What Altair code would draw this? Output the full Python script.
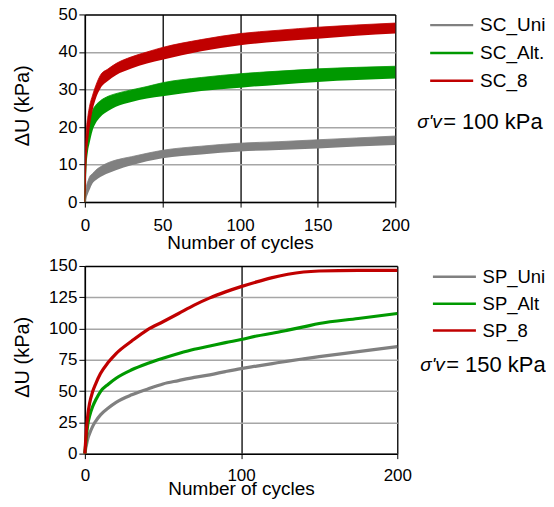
import altair as alt
import pandas as pd

# ---------------- top panel: sigma'v = 100 kPa (cyclic bands: lower / upper edge) ----------------
sc_names = ["SC_Uni", "SC_Alt.", "SC_8"]
sc_cycles = [0, 0.5, 1, 2, 3, 5, 7, 10, 15, 20, 30, 40, 50, 75, 100, 125, 150, 175, 200]
sc_uni_lo = [0, 0, 1.0, 2.2, 3.2, 5.0, 5.8, 6.7, 7.7, 8.5, 9.8, 10.9, 11.7, 12.7, 13.5, 13.9, 14.3, 14.8, 15.2]
sc_uni_hi = [0, 2.5, 4.1, 5.6, 6.7, 7.6, 8.5, 9.4, 10.5, 11.2, 12.1, 13.0, 13.8, 14.9, 15.7, 16.1, 16.6, 17.1, 17.6]
sc_alt_lo = [0, 4, 9, 13.5, 15.6, 19.1, 21.0, 22.7, 24.3, 25.4, 26.7, 27.6, 28.2, 29.6, 30.5, 31.3, 32.0, 32.5, 32.9]
sc_alt_hi = [0, 11, 16, 20, 21.8, 24.5, 25.8, 27.0, 28.2, 28.9, 29.9, 30.8, 31.8, 33.2, 34.2, 34.9, 35.5, 35.9, 36.2]
sc_8_lo = [0, 4, 10, 16, 19.5, 24.5, 27.5, 30.2, 32.3, 33.8, 35.6, 36.9, 37.9, 40.2, 41.8, 42.8, 43.5, 44.3, 44.9]
sc_8_hi = [0, 14, 19, 23, 25.5, 28.5, 31, 33.8, 35.5, 36.9, 38.7, 40.0, 41.2, 43.3, 44.9, 45.8, 46.6, 47.2, 47.7]

# ---------------- bottom panel: sigma'v = 150 kPa ----------------
sp_names = ["SP_Uni", "SP_Alt", "SP_8"]
sp_cycles = [0, 0.5, 1, 2, 3, 5, 7, 10, 15, 20, 30, 40, 50, 60, 70, 80, 90, 100,
             110, 120, 130, 140, 150, 175, 200]
sp_uni = [0, 4, 7, 12.5, 16, 21.8, 26, 31, 36.5, 41, 47, 51.5, 55.7, 58.4, 61, 63, 65.6, 68,
          70, 72, 74, 75.8, 77.5, 81.5, 85.5]
sp_alt = [0, 7, 13.8, 24.4, 30, 37.7, 43, 49.6, 55.5, 60.3, 67, 72, 76.2, 80, 83.4, 86, 88.7, 91.2,
          94, 96.2, 98.7, 101.3, 104, 108, 112]
sp_8 = [0, 10, 19, 32, 40, 49.6, 56, 64, 73, 80, 90, 99, 105.4, 112, 118.7, 124.5, 129.3, 133.5,
        137.3, 140.7, 143.4, 145.2, 146, 146.5, 146.5]

series_colors = ["#808080", "#009900", "#c00000"]
x_ticks_top = [0, 50, 100, 150, 200]
y_ticks_top = [0, 10, 20, 30, 40, 50]
x_ticks_bot = [0, 100, 200]
y_ticks_bot = [0, 25, 50, 75, 100, 125, 150]
note_sigma = ["σ'v"]
note_top = ["= 100 kPa"]
note_bot = ["= 150 kPa"]

FONT = "Liberation Sans"

top_rows = []
for name, lo, hi in zip(sc_names, [sc_uni_lo, sc_alt_lo, sc_8_lo], [sc_uni_hi, sc_alt_hi, sc_8_hi]):
    for n, a, b in zip(sc_cycles, lo, hi):
        top_rows.append({"N": n, "lo": a, "hi": b, "series": name})
top_df = pd.DataFrame(top_rows)

bot_rows = []
for name, vals in zip(sp_names, [sp_uni, sp_alt, sp_8]):
    for n, v in zip(sp_cycles, vals):
        bot_rows.append({"N": n, "U": v, "series": name})
bot_df = pd.DataFrame(bot_rows)


def legend(x, y, row_pad, font_size):
    # horizontal line sample, 43 px long (custom path spans 8 units -> 4*sqrt(size))
    return alt.Legend(title=None, orient="none", legendX=x, legendY=y,
                      labelFontSize=font_size, labelFont=FONT, labelColor="black",
                      symbolType="M-4,0H4", symbolSize=116, symbolStrokeWidth=2.5,
                      labelOffset=19, rowPadding=row_pad, padding=0)


def x_axis(vals, lab_pad, title_pad):
    return alt.Axis(values=vals, title="Number of cycles", grid=True, gridColor="black",
                    gridWidth=1.3, domainColor="black", domainWidth=1.5, tickColor="black",
                    tickSize=5, labelPadding=lab_pad, labelFontSize=17, labelFont=FONT,
                    labelColor="black", titleFontSize=19, titleFont=FONT,
                    titleFontWeight="normal", titleColor="black", titlePadding=title_pad,
                    labelFlush=False)


def y_axis(vals, grid_top):
    return alt.Axis(values=vals, title="ΔU (kPa)", grid=True,
                    gridColor={"condition": {"test": f"datum.value == {grid_top}", "value": "black"},
                               "value": "#a6a6a6"},
                    gridWidth=1.5, domainColor="black", domainWidth=1.5, tickColor="black",
                    tickSize=6, labelPadding=2, labelFontSize=17, labelFont=FONT,
                    labelColor="black", titleFontSize=20, titleFont=FONT,
                    titleFontWeight="normal", titleColor="black",
                    titleX=-62, titleY=91, titleBaseline="middle",
                    labelOverlap=False,
                    labelExpr="datum.value == 0 ? '0\u2002' : datum.label")


# ---- top chart ----
top_scale_x = alt.Scale(domain=[0, 200], nice=False)
top_scale_y = alt.Scale(domain=[0, 50], nice=False)
top_x = alt.X("N:Q", scale=top_scale_x, axis=x_axis(x_ticks_top, 10, 0))
top_color = alt.Color("series:N", scale=alt.Scale(domain=sc_names, range=series_colors),
                      legend=legend(358, 1.2, 7.9, 19))
top_layers = []
for name in sc_names:
    base = alt.Chart(top_df).transform_filter(alt.datum.series == name)
    top_layers.append(base.mark_area(interpolate="monotone").encode(
        x=top_x, y=alt.Y("lo:Q", scale=top_scale_y, axis=y_axis(y_ticks_top, 50)),
        y2="hi:Q", color=top_color))
    top_layers.append(base.mark_line(interpolate="monotone", strokeWidth=0.8).encode(
        x=top_x, y=alt.Y("hi:Q", scale=top_scale_y, axis=y_axis(y_ticks_top, 50)),
        color=top_color))
top_sigma = alt.Chart(pd.DataFrame({"t": note_sigma})).mark_text(
    align="left", baseline="middle", font=FONT, fontSize=19, fontStyle="italic", color="black"
).encode(text="t:N", x=alt.value(333), y=alt.value(108))
top_note = alt.Chart(pd.DataFrame({"t": note_top})).mark_text(
    align="left", baseline="middle", font=FONT, fontSize=22, color="black"
).encode(text="t:N", x=alt.value(359), y=alt.value(108))
top_chart = alt.layer(*top_layers, top_sigma, top_note).properties(width=311, height=188)

# ---- bottom chart ----
bot_x = alt.X("N:Q", scale=alt.Scale(domain=[0, 200], nice=False), axis=x_axis(x_ticks_bot, 9, -4))
bot_y = alt.Y("U:Q", scale=alt.Scale(domain=[0, 150], nice=False), axis=y_axis(y_ticks_bot, 150))
bot_color = alt.Color("series:N", scale=alt.Scale(domain=sp_names, range=series_colors),
                      legend=legend(361, 1.5, 8.0, 18.5))
bot_layers = []
for name in sp_names:
    bot_layers.append(
        alt.Chart(bot_df).transform_filter(alt.datum.series == name)
        .mark_line(interpolate="monotone", strokeWidth=3.2)
        .encode(x=bot_x, y=bot_y, color=bot_color)
    )
bot_sigma = alt.Chart(pd.DataFrame({"t": note_sigma})).mark_text(
    align="left", baseline="middle", font=FONT, fontSize=19, fontStyle="italic", color="black"
).encode(text="t:N", x=alt.value(336), y=alt.value(99))
bot_note = alt.Chart(pd.DataFrame({"t": note_bot})).mark_text(
    align="left", baseline="middle", font=FONT, fontSize=22, color="black"
).encode(text="t:N", x=alt.value(362), y=alt.value(99))
bot_chart = alt.layer(*bot_layers, bot_sigma, bot_note).properties(width=313, height=188)

chart = (
    alt.vconcat(top_chart, bot_chart, spacing=3)
    .resolve_scale(color="independent")
    .properties(padding={"left": 4, "top": -4, "right": -1, "bottom": -1})
    .configure_view(strokeWidth=0)
    .configure(background="white")
)

chart.save("out.html", embed_options={"renderer": "svg", "actions": False})
